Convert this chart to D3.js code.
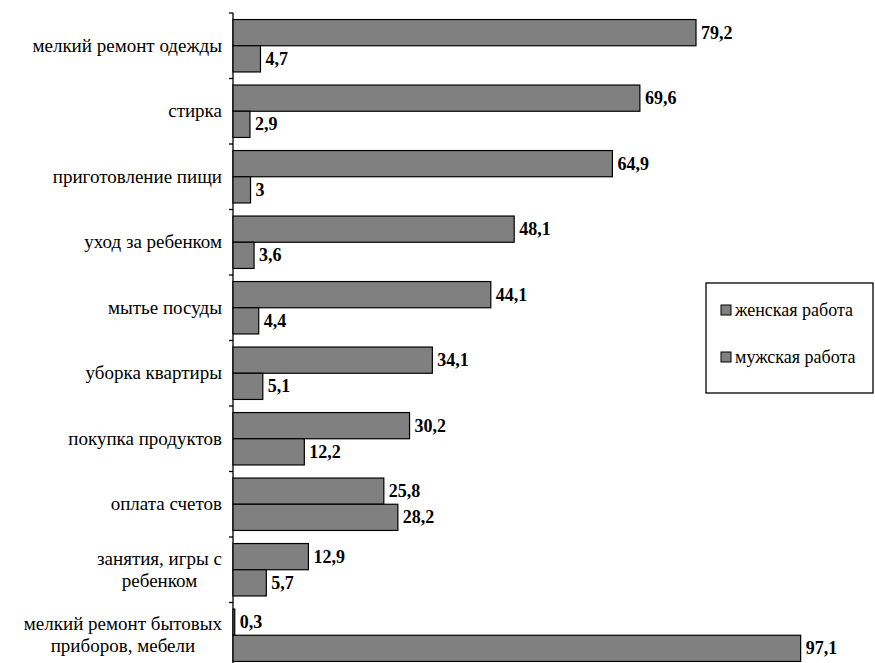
<!DOCTYPE html>
<html>
<head>
<meta charset="utf-8">
<script src="https://cdn.jsdelivr.net/npm/d3@7"></script>
</head>
<body style="margin:0">
<script>
// categories, top to bottom
var categories = [
  "мелкий ремонт одежды",
  "стирка",
  "приготовление пищи",
  "уход за ребенком",
  "мытье посуды",
  "уборка квартиры",
  "покупка продуктов",
  "оплата счетов",
  "занятия, игры с ребенком",
  "мелкий ремонт бытовых приборов, мебели"
]
// how labels wrap in the original
var labelLines = [
  ["мелкий ремонт одежды"],
  ["стирка"],
  ["приготовление пищи"],
  ["уход за ребенком"],
  ["мытье посуды"],
  ["уборка квартиры"],
  ["покупка продуктов"],
  ["оплата счетов"],
  ["занятия, игры с", "ребенком"],
  ["мелкий ремонт бытовых", "приборов, мебели"]
]
var womenWork = [79.2, 69.6, 64.9, 48.1, 44.1, 34.1, 30.2, 25.8, 12.9, 0.3]
var menWork = [4.7, 2.9, 3, 3.6, 4.4, 5.1, 12.2, 28.2, 5.7, 97.1]
var seriesNames = ["женская работа", "мужская работа"]

WIDTH = 875
HEIGHT = 663
AXISX = 233
LABELRIGHT = 222
FONT = "'Times New Roman', 'Liberation Serif', Tinos, serif"

var svg = d3.select("body").append("svg")
            .attr("width", WIDTH).attr("height", HEIGHT)

// measure text width with a canvas
var ctx = document.createElement("canvas").getContext("2d")
function textWidth(s, size)
{
  ctx.font = size + "px " + FONT
  return ctx.measureText(s).width
}

function addText(parent, size, bold)
{
  var t = parent.append("text").style("font-family", FONT).style("font-size", size + "px")
  if (bold) t.style("font-weight", "bold")
  return t
}

var xScale = d3.scaleLinear().domain([0, 100]).range([AXISX, AXISX + 584.6])
var yScale = d3.scaleBand().domain(categories).range([13, 668])
               .paddingInner(0.2).paddingOuter(0.1)
var inner = d3.scaleBand().domain([0, 1]).range([0, yScale.bandwidth()])

var step = yScale.step()

// axis line + ticks between categories
svg.append("line").attr("x1", AXISX).attr("x2", AXISX)
   .attr("y1", 13).attr("y2", 668)
   .attr("stroke", "#000").attr("stroke-width", 1.3)
categories.forEach(function(c, i)
{
  var ty = 13 + step * i
  svg.append("line").attr("x1", AXISX - 4).attr("x2", AXISX)
     .attr("y1", ty).attr("y2", ty).attr("stroke", "#000").attr("stroke-width", 1.3)
})

var series = [womenWork, menWork]
series.forEach(function(values, s)
{
  categories.forEach(function(c, i)
  {
    var y = yScale(c) + inner(s)
    svg.append("rect").attr("x", xScale(0)).attr("y", y)
       .attr("width", xScale(values[i]) - xScale(0)).attr("height", inner.bandwidth())
       .attr("fill", "#808080").attr("stroke", "#000").attr("stroke-width", 1.2)
    addText(svg, 18, true)
       .attr("x", xScale(values[i]) + 5).attr("y", y + inner.bandwidth() / 2 + 6)
       .text(String(values[i]).replace(".", ","))
  })
})

// category labels: right aligned box, lines centered inside it
categories.forEach(function(c, i)
{
  var lines = labelLines[i]
  var w = d3.max(lines, function(l) { return textWidth(l, 19) })
  var cy = yScale(c) + yScale.bandwidth() / 2
  var lh = 22
  lines.forEach(function(l, k)
  {
    addText(svg, 19, false).attr("text-anchor", "middle")
      .attr("x", LABELRIGHT - w / 2)
      .attr("y", cy + (k - (lines.length - 1) / 2) * lh + 6)
      .text(l)
  })
})

// legend
var legend = svg.append("g")
legend.append("rect").attr("x", 706).attr("y", 283).attr("width", 167).attr("height", 110)
      .attr("fill", "#fff").attr("stroke", "#000").attr("stroke-width", 1.3)
seriesNames.forEach(function(name, i)
{
  var ly = 305 + 47 * i
  legend.append("rect").attr("x", 721).attr("y", ly).attr("width", 10).attr("height", 10)
        .attr("fill", "#808080").attr("stroke", "#000").attr("stroke-width", 1)
  addText(legend, 18, false)
        .attr("x", 735).attr("y", ly + 11).text(name)
})
</script>
</body>
</html>
